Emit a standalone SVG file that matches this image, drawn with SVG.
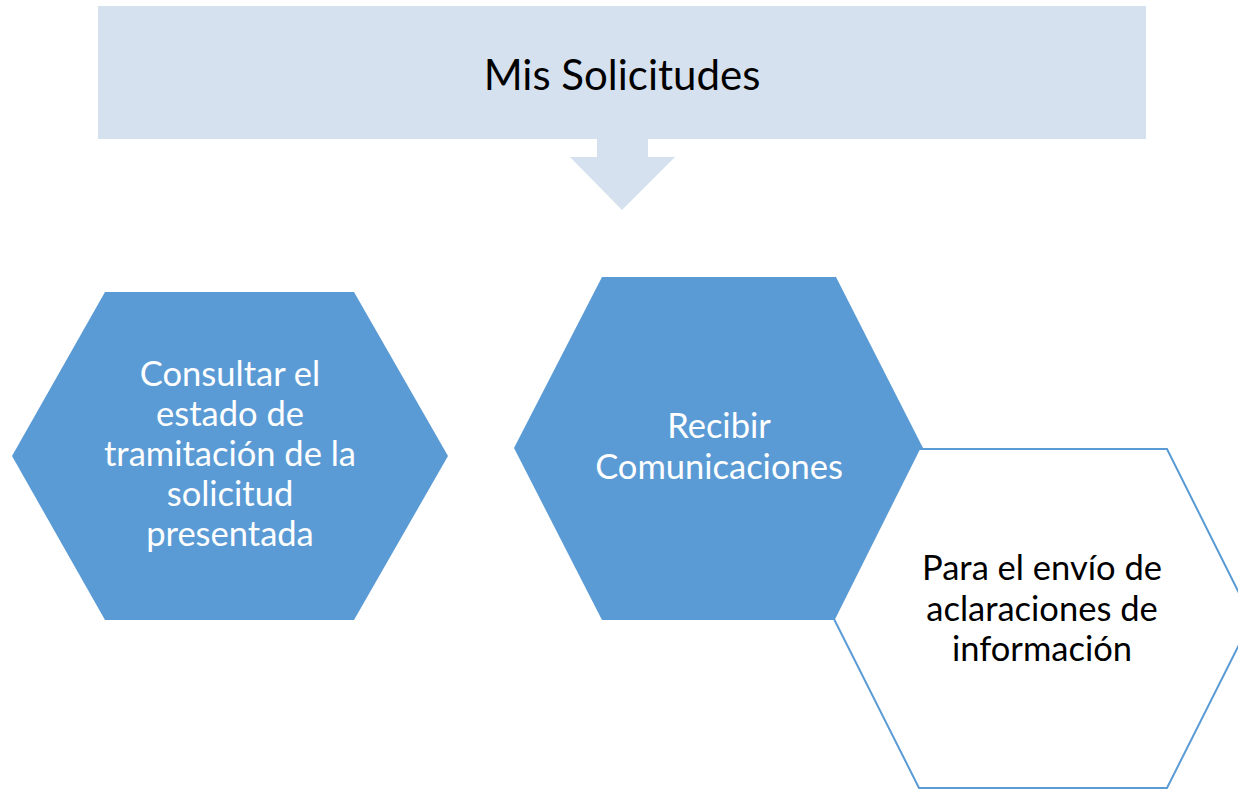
<svg xmlns="http://www.w3.org/2000/svg" width="1238" height="789" viewBox="0 0 1238 789">
<style>
.t{font-family:Lato,"Open Sans","Liberation Sans",sans-serif;text-anchor:middle}
.w{fill:#FFFFFF;font-size:34.5px}
.k{fill:#000000;font-size:34.5px}
.title{fill:#000000;font-size:42px}
.hexb{fill:#5B9BD5}
.hexw{fill:#FFFFFF;stroke:#5B9BD5;stroke-width:2}
</style>
<rect width="1238" height="789" fill="#FFFFFF"/>
<g id="banner">
<rect x="98" y="6" width="1048" height="133" fill="#D6E1EF"/>
<text class="t title" x="622" y="90">Mis Solicitudes</text>
</g>
<g id="connectors">
<polygon points="597,139 648,139 648,157 675,157 622,210 570,157 597,157" fill="#D6E1EF"/>
</g>
<g id="node-consultar">
<polygon class="hexb" points="105,292 354,292 448,456 354,620 105,620 12,456"/>
<text class="t w" x="230" y="386">Consultar el</text>
<text class="t w" x="230" y="426">estado de</text>
<text class="t w" x="230" y="466">tramitación de la</text>
<text class="t w" x="230" y="506">solicitud</text>
<text class="t w" x="230" y="546">presentada</text>
</g>
<g id="node-recibir">
<polygon class="hexb" points="602,277 836,277 923,448 836,620 602,620 514,448"/>
<text class="t w" x="719" y="438">Recibir</text>
<text class="t w" x="719" y="479">Comunicaciones</text>
</g>
<g id="node-para">
<polygon class="hexw" points="919,449 1167,449 1252,619 1167,788 919,788 834,619"/>
<text class="t k" x="1042" y="580">Para el envío de</text>
<text class="t k" x="1042" y="621">aclaraciones de</text>
<text class="t k" x="1042" y="661">información</text>
</g>
</svg>
